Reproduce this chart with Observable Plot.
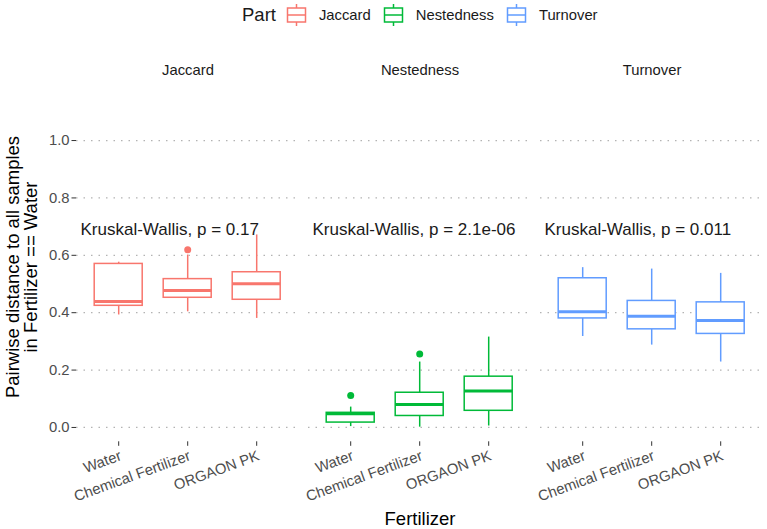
<!DOCTYPE html>
<html>
<head>
<meta charset="utf-8">
<script src="https://cdn.jsdelivr.net/npm/d3@7"></script>
<script src="https://cdn.jsdelivr.net/npm/@observablehq/plot@0.6"></script>
<style>
  html, body { margin: 0; padding: 0; background: white; }
  body { width: 767px; height: 529px; overflow: hidden; font-family: 'Liberation Sans', Arial, sans-serif; color: #1a1a1a; }
  #legend { height: 30px; display: flex; align-items: center; padding-left: 242px; box-sizing: border-box; }
  #legend .title { font-size: 18.5px; margin-right: 10px; }
  #legend .lab { font-size: 14.8px; margin-left: 12px; margin-right: 12px; }
  #legend svg { display: block; }
</style>
</head>
<body>
<div id="legend"></div>
<div id="chart"></div>
<script>
const parts = ["Jaccard", "Nestedness", "Turnover"];
const fertilizers = ["Water", "Chemical Fertilizer", "ORGAON PK"];
const partColors = ["#F8766D", "#00BA38", "#619CFF"];
// rows: part, columns: fertilizer
const whiskerLow  = [[0.392, 0.403, 0.380], [0.003, 0.001, 0.005], [0.317, 0.287, 0.228]];
const lowerQuart  = [[0.424, 0.452, 0.445], [0.017, 0.040, 0.058], [0.380, 0.342, 0.326]];
const medians     = [[0.439, 0.477, 0.501], [0.048, 0.080, 0.127], [0.403, 0.388, 0.373]];
const upperQuart  = [[0.570, 0.517, 0.541], [0.051, 0.121, 0.177], [0.520, 0.441, 0.436]];
const whiskerHigh = [[0.576, 0.601, 0.671], [0.071, 0.228, 0.315], [0.557, 0.552, 0.537]];
const outlierPart = ["Jaccard", "Nestedness", "Nestedness"];
const outlierFert = ["Chemical Fertilizer", "Water", "Chemical Fertilizer"];
const outlierValue = [0.619, 0.111, 0.256];
const pLabels = ["Kruskal-Wallis, p = 0.17", "Kruskal-Wallis, p = 2.1e-06", "Kruskal-Wallis, p = 0.011"];
const yTicks = [0, 0.2, 0.4, 0.6, 0.8, 1.0];
const legendTitle = "Part";
const xTitle = "Fertilizer";
const yTitle = "Pairwise distance to all samples\nin Fertilizer == Water";

const boxes = [];
parts.forEach((p, i) => fertilizers.forEach((f, j) => boxes.push({
  part: p, fert: f,
  lo: whiskerLow[i][j], q1: lowerQuart[i][j], med: medians[i][j],
  q3: upperQuart[i][j], hi: whiskerHigh[i][j]
})));
const outliers = outlierValue.map((v, k) => ({part: outlierPart[k], fert: outlierFert[k], value: v}));
const testLabels = parts.map((p, i) => ({part: p, text: pLabels[i]}));

// legend
const legend = document.getElementById("legend");
const t = document.createElement("span");
t.className = "title"; t.textContent = legendTitle; legend.appendChild(t);
parts.forEach((p, i) => {
  const ns = "http://www.w3.org/2000/svg";
  const s = document.createElementNS(ns, "svg");
  s.setAttribute("width", 21); s.setAttribute("height", 24);
  const c = partColors[i];
  s.innerHTML = `<line x1="10.5" x2="10.5" y1="1" y2="23" stroke="${c}" stroke-width="1.5"/>
    <rect x="1.5" y="5" width="18" height="14" fill="white" stroke="${c}" stroke-width="1.5"/>
    <line x1="1.5" x2="19.5" y1="12" y2="12" stroke="${c}" stroke-width="1.5"/>`;
  legend.appendChild(s);
  const l = document.createElement("span");
  l.className = "lab"; l.textContent = p; legend.appendChild(l);
});

const plot = Plot.plot({
  width: 767,
  height: 499,
  marginLeft: 74.8,
  marginRight: 3.4,
  marginTop: 95.7,
  marginBottom: 87.7,
  style: {fontFamily: "'Liberation Sans', Arial, sans-serif", fontSize: "14.8px", background: "white", color: "#1a1a1a"},
  fx: {domain: parts, paddingInner: 0.04, paddingOuter: 0, label: null},
  x: {domain: fertilizers, paddingInner: 0.3, paddingOuter: 0.25, label: null},
  y: {domain: [-0.05, 1.05], label: null},
  color: {domain: parts, range: partColors},
  marks: [
    Plot.gridY(yTicks, {stroke: "#b3b3b3", strokeOpacity: 1, strokeDasharray: "1.5,6", strokeWidth: 1.2}),
    Plot.ruleX(boxes, {fx: "part", x: "fert", y1: "lo", y2: "q1", stroke: "part", strokeWidth: 1.5}),
    Plot.ruleX(boxes, {fx: "part", x: "fert", y1: "q3", y2: "hi", stroke: "part", strokeWidth: 1.5}),
    Plot.barY(boxes, {fx: "part", x: "fert", y1: "q1", y2: "q3", fill: "white", stroke: "part", strokeWidth: 1.5}),
    Plot.tickY(boxes, {fx: "part", x: "fert", y: "med", stroke: "part", strokeWidth: 3}),
    Plot.dot(outliers, {fx: "part", x: "fert", y: "value", fill: "part", r: 3.5}),
    Plot.text(testLabels, {fx: "part", y: () => 0.69, frameAnchor: "left", text: "text", textAnchor: "start", dx: 4, fontSize: 17, fill: "#1a1a1a"}),
    Plot.axisY(yTicks, {tickFormat: d3.format(".1f"), tickSize: 4.5, tickPadding: 2.5, fontSize: 14.8, fill: "#4d4d4d", stroke: "#333", label: null}),
    Plot.axisX({tickRotate: -20, textAnchor: "end", lineAnchor: "top", tickSize: 4.5, tickPadding: 3.5, fontSize: 14.8, fill: "#4d4d4d", stroke: "#333", label: null}),
    Plot.axisFx({anchor: "top", tickSize: 0, tickPadding: 51, fontSize: 14.8, fill: "#1a1a1a", label: null}),
    Plot.text([parts[0]], {fx: d => d, frameAnchor: "left", text: () => yTitle, rotate: -90, lineAnchor: "top", textAnchor: "middle", dx: -71, dy: -17, fontSize: 18.5, fill: "#000"}),
    Plot.text([parts[1]], {fx: d => d, frameAnchor: "bottom", text: () => xTitle, lineAnchor: "middle", dy: 77.5, fontSize: 18.5, fill: "#000"})
  ]
});
document.getElementById("chart").appendChild(plot);
</script>
</body>
</html>
